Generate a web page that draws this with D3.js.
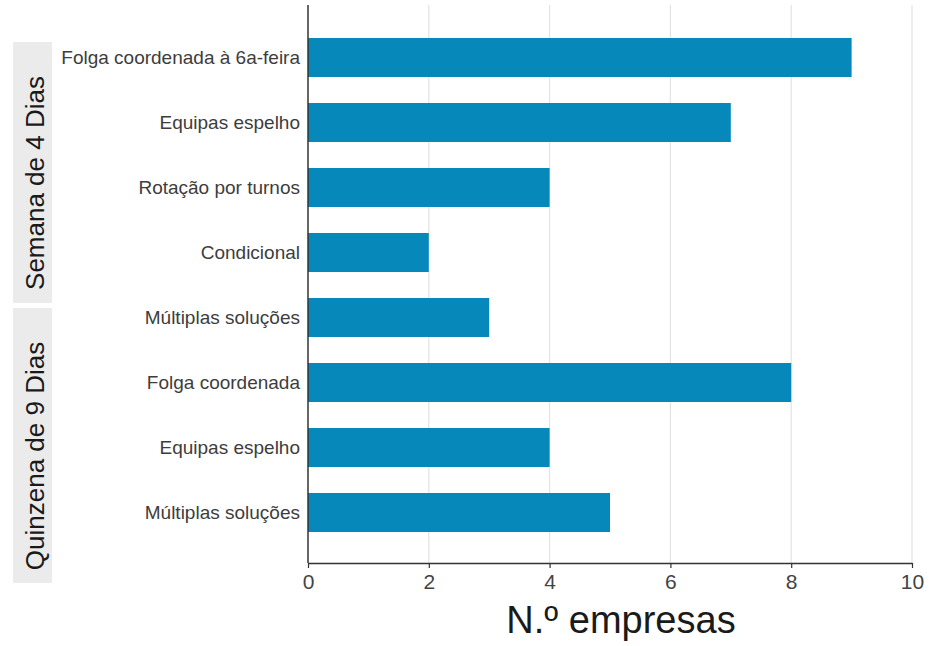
<!DOCTYPE html>
<html>
<head>
<meta charset="utf-8">
<script src="https://cdn.jsdelivr.net/npm/d3@7"></script>
<style>
  body { margin: 0; background: #fff; }
  text { font-family: "Liberation Sans", Arial, sans-serif; }
</style>
</head>
<body>
<div id="vis"></div>
<script>
// data
const categories = [
    "Folga coordenada à 6a-feira",
    "Equipas espelho",
    "Rotação por turnos",
    "Condicional",
    "Múltiplas soluções",
    "Folga coordenada",
    "Equipas espelho ",
    "Múltiplas soluções "
];
const values = [9, 7, 4, 2, 3, 8, 4, 5];
const groups = ["Semana de 4 Dias", "Quinzena de 9 Dias"];
const xTicks = [0, 2, 4, 6, 8, 10];

const W = 933, H = 646;
const barColor = "#0788bb";

const svg = d3.select("#vis").append("svg")
    .attr("width", W)
    .attr("height", H);

const xScale = d3.scaleLinear().domain([0, 10]).range([308, 912]);
const yScale = d3.scaleBand()
    .domain(categories)
    .range([25, 545])
    .paddingInner(0.4)
    .paddingOuter(0.2);

const axisTop = 5, axisBottom = 563;

// grid lines
svg.append("g")
    .selectAll("line")
    .data(xTicks.filter(d => d > 0))
    .join("line")
    .attr("x1", d => xScale(d))
    .attr("x2", d => xScale(d))
    .attr("y1", axisTop)
    .attr("y2", axisBottom)
    .attr("stroke", "#e3e3e3")
    .attr("stroke-width", 1.2);

// bars
svg.append("g")
    .selectAll("rect")
    .data(categories)
    .join("rect")
    .attr("x", xScale(0))
    .attr("y", d => yScale(d))
    .attr("width", (d, i) => xScale(values[i]) - xScale(0))
    .attr("height", yScale.bandwidth())
    .attr("fill", barColor);

// x axis
const xAxis = svg.append("g")
    .attr("transform", `translate(0,${axisBottom})`)
    .call(d3.axisBottom(xScale).tickValues(xTicks).tickSize(5).tickSizeOuter(0).tickPadding(6));
xAxis.select(".domain").attr("stroke", "#333").attr("stroke-width", 1.5);
xAxis.selectAll(".tick line").attr("stroke", "#333").attr("stroke-width", 1.2);
xAxis.selectAll(".tick text")
    .attr("fill", "#444")
    .style("font-size", "21px")
    .style("font-family", "'Liberation Sans', Arial, sans-serif");

// y axis line
svg.append("line")
    .attr("x1", xScale(0)).attr("x2", xScale(0))
    .attr("y1", axisTop).attr("y2", axisBottom)
    .attr("stroke", "#333")
    .attr("stroke-width", 1.5);

// category labels
svg.append("g")
    .selectAll("text")
    .data(categories)
    .join("text")
    .attr("x", 300)
    .attr("y", d => yScale(d) + yScale.bandwidth() / 2)
    .attr("dy", "0.35em")
    .attr("text-anchor", "end")
    .attr("fill", "#3d3d3d")
    .style("font-size", "19px")
    .text(d => d.trim());

// group strips on the left
const strips = [
    {label: groups[0], y0: 42, y1: 303, cy: 183},
    {label: groups[1], y0: 308, y1: 583, cy: 456}
];
const strip = svg.append("g").selectAll("g")
    .data(strips)
    .join("g");
strip.append("rect")
    .attr("x", 13)
    .attr("y", d => d.y0)
    .attr("width", 39)
    .attr("height", d => d.y1 - d.y0)
    .attr("fill", "#ebebeb");
strip.append("text")
    .attr("transform", d => `translate(35,${d.cy}) rotate(-90)`)
    .attr("text-anchor", "middle")
    .attr("dy", "0.35em")
    .attr("fill", "#1a1a1a")
    .style("font-size", "26px")
    .text(d => d.label);

// x axis title
svg.append("text")
    .attr("x", 621)
    .attr("y", 633)
    .attr("text-anchor", "middle")
    .attr("fill", "#1a1a1a")
    .style("font-size", "38px")
    .text("N.º empresas");
</script>
</body>
</html>
